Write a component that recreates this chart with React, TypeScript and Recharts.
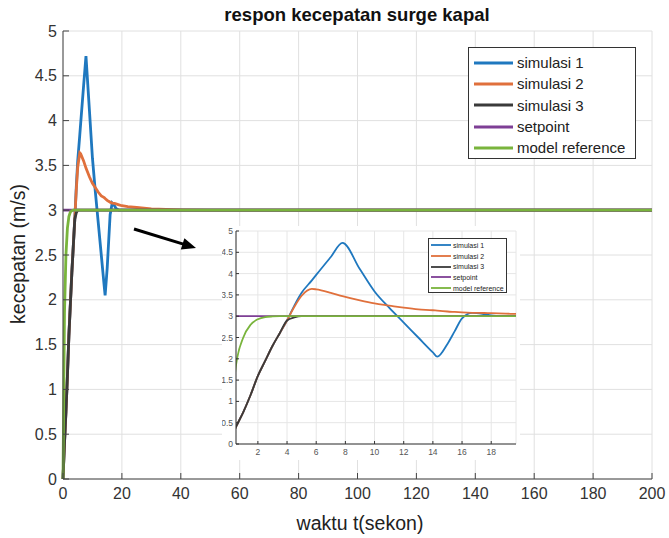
import React from "react";
import { CartesianGrid, Legend, Line, LineChart, XAxis, YAxis } from "recharts";

// waktu (detik) dan respon kecepatan tiap simulasi
const time = [0, 0.5, 1, 1.5, 2, 2.5, 3, 3.5, 4, 4.5, 5, 5.7, 6, 7, 7.8, 9, 10, 11, 12, 13, 14, 14.3, 15, 15.5, 16, 16.7, 17.5, 18, 19, 20, 22, 25, 30, 35, 40, 50, 200];
const simulasi1 = [0, 0.4, 0.75, 1.15, 1.6, 1.95, 2.3, 2.6, 2.9, 3.25, 3.55, 3.84, 3.97, 4.39, 4.72, 4.1, 3.58, 3.2, 2.85, 2.5, 2.15, 2.05, 2.35, 2.65, 2.95, 3.08, 3.05, 3.02, 3.0, 3, 3, 3, 3, 3, 3, 3, 3];
const simulasi2 = [0, 0.4, 0.75, 1.15, 1.6, 1.95, 2.3, 2.6, 2.9, 3.22, 3.48, 3.64, 3.63, 3.55, 3.47, 3.37, 3.3, 3.25, 3.2, 3.16, 3.14, 3.13, 3.11, 3.1, 3.09, 3.08, 3.075, 3.07, 3.06, 3.05, 3.04, 3.03, 3.015, 3.008, 3.004, 3.0, 3.0];
const simulasi3 = [0, 0.4, 0.75, 1.15, 1.6, 1.95, 2.3, 2.6, 2.9, 2.97, 3.0, 3, 3, 3, 3, 3, 3, 3, 3, 3, 3, 3, 3, 3, 3, 3, 3, 3, 3, 3, 3, 3, 3, 3, 3, 3, 3];
const setpoint = [3, 3, 3, 3, 3, 3, 3, 3, 3, 3, 3, 3, 3, 3, 3, 3, 3, 3, 3, 3, 3, 3, 3, 3, 3, 3, 3, 3, 3, 3, 3, 3, 3, 3, 3, 3, 3];
const modelReference = [0, 1.85, 2.5, 2.8, 2.93, 2.98, 2.995, 3, 3, 3, 3, 3, 3, 3, 3, 3, 3, 3, 3, 3, 3, 3, 3, 3, 3, 3, 3, 3, 3, 3, 3, 3, 3, 3, 3, 3, 3];

const mainXTicks = [0, 20, 40, 60, 80, 100, 120, 140, 160, 180, 200];
const yTicks = [0, 0.5, 1, 1.5, 2, 2.5, 3, 3.5, 4, 4.5, 5];
const insetXTicks = [2, 4, 6, 8, 10, 12, 14, 16, 18];

const seriesNames = ["simulasi 1", "simulasi 2", "simulasi 3", "setpoint", "model reference"];
const seriesKeys = ["s1", "s2", "s3", "sp", "mr"];
const seriesColors = ["#1f78bf", "#e0703c", "#3a3a3a", "#7e3f95", "#79b43c"];

const rows = time.map((t, i) => ({
  t,
  s1: simulasi1[i],
  s2: simulasi2[i],
  s3: simulasi3[i],
  sp: setpoint[i],
  mr: modelReference[i],
}));

const FONT = '"Liberation Sans", Arial, sans-serif';

const BoxLegend = (props: any) => {
  const { payload, fontSize, rowH, lineW, padTop, padLeft, gap, lineWidth, width, height } = props;
  const items = [...(payload || [])].sort(
    (a: any, b: any) => seriesNames.indexOf(a.value) - seriesNames.indexOf(b.value)
  );
  return (
    <div
      style={{
        boxSizing: "border-box",
        width,
        height,
        border: "1px solid #333",
        background: "#fff",
        paddingTop: padTop,
        paddingLeft: padLeft,
        fontFamily: FONT,
        fontSize,
        color: "#222",
      }}
    >
      {items.map((p: any) => (
        <div key={p.value} style={{ display: "flex", alignItems: "center", height: rowH, whiteSpace: "nowrap" }}>
          <svg width={lineW} height={6} style={{ marginRight: gap }}>
            <line x1={0} y1={3} x2={lineW} y2={3} stroke={p.color} strokeWidth={lineWidth} />
          </svg>
          <span>{p.value}</span>
        </div>
      ))}
    </div>
  );
};

export default function App() {
  return (
    <div style={{ position: "absolute", left: 0, top: 0, width: 669, height: 538, background: "#fff", fontFamily: FONT }}>
      <LineChart width={669} height={538} data={rows} margin={{ top: 31, right: 17, left: 0, bottom: 0 }}>
        <CartesianGrid stroke="#e0e0e0" />
        <XAxis
          dataKey="t"
          type="number"
          domain={[0, 200]}
          ticks={mainXTicks}
          interval={0}
          height={59}
          tickSize={-6}
          tickMargin={15}
          stroke="#444"
          tick={{ fill: "#333", fontSize: 16, fontFamily: FONT }}
        />
        <XAxis xAxisId="top" orientation="top" dataKey="t" type="number" domain={[0, 200]} ticks={mainXTicks} interval={0} height={0} tickSize={-6} tickFormatter={() => ""} stroke="#444" />
        <YAxis
          type="number"
          domain={[0, 5]}
          ticks={yTicks}
          interval={0}
          width={63}
          tickSize={-6}
          tickMargin={12}
          stroke="#444"
          tick={{ fill: "#333", fontSize: 16, fontFamily: FONT }}
        />
        <YAxis yAxisId="right" orientation="right" type="number" domain={[0, 5]} ticks={yTicks} interval={0} width={0} tickSize={-6} tickFormatter={() => ""} stroke="#444" />
        {seriesKeys.map((k, i) => (
          <Line key={k} dataKey={k} name={seriesNames[i]} stroke={seriesColors[i]} strokeWidth={2.8} dot={false} isAnimationActive={false} />
        ))}
        <Legend
          layout="vertical"
          align="center"
          verticalAlign="middle"
          wrapperStyle={{ left: 468, top: 47, width: 168, height: 112 }}
          content={(p: any) => (
            <BoxLegend {...p} width={168} height={112} fontSize={15} rowH={21.3} lineW={39} padTop={4} padLeft={5} gap={4} lineWidth={3} />
          )}
        />
      </LineChart>

      <div style={{ position: "absolute", left: 222, top: 226, width: 298, height: 234, background: "#fff" }}>
        <LineChart width={298} height={234} data={rows} margin={{ top: 5, right: 4, left: 0, bottom: 0 }}>
          <CartesianGrid stroke="#e6e6e6" />
          <XAxis
            dataKey="t"
            type="number"
            domain={[0.5, 19.7]}
            allowDataOverflow
            ticks={insetXTicks}
            interval={0}
            height={16}
            tickSize={-3}
            tickMargin={8}
            stroke="#333"
            tick={{ fill: "#555", fontSize: 8.5, fontFamily: FONT }}
          />
          <XAxis xAxisId="top" orientation="top" dataKey="t" type="number" domain={[0.5, 19.7]} allowDataOverflow ticks={insetXTicks} interval={0} height={0} tickSize={-3} tickFormatter={() => ""} stroke="#333" />
          <YAxis
            type="number"
            domain={[0, 5]}
            ticks={yTicks}
            interval={0}
            width={14}
            tickSize={-3}
            tickMargin={6}
            stroke="#333"
            tick={{ fill: "#555", fontSize: 8.5, fontFamily: FONT }}
          />
          <YAxis yAxisId="right" orientation="right" type="number" domain={[0, 5]} ticks={yTicks} interval={0} width={0} tickSize={-3} tickFormatter={() => ""} stroke="#333" />
          {seriesKeys.map((k, i) => (
            <Line key={k} type="monotone" dataKey={k} name={seriesNames[i]} stroke={seriesColors[i]} strokeWidth={1.8} dot={false} isAnimationActive={false} />
          ))}
          <Legend
            layout="vertical"
            align="center"
            verticalAlign="middle"
            wrapperStyle={{ left: 206, top: 12, width: 79, height: 55 }}
            content={(p: any) => (
              <BoxLegend {...p} width={79} height={55} fontSize={7} rowH={10.7} lineW={20} padTop={1} padLeft={2} gap={2} lineWidth={1.8} />
            )}
          />
        </LineChart>
      </div>

      <svg width={669} height={538} style={{ position: "absolute", left: 0, top: 0, pointerEvents: "none" }}>
        <text x={357} y={21} textAnchor="middle" fontSize={18.5} fontWeight="bold" fill="#111" fontFamily={FONT}>
          respon kecepatan surge kapal
        </text>
        <text x={360} y={530} textAnchor="middle" fontSize={19.5} fill="#222" fontFamily={FONT}>
          waktu t(sekon)
        </text>
        <text x={25} y={254} textAnchor="middle" fontSize={19.5} fill="#222" fontFamily={FONT} transform="rotate(-90 25 254)">
          kecepatan (m/s)
        </text>
        <line x1={134} y1={229} x2={185} y2={244.6} stroke="#000" strokeWidth={3} />
        <polygon points="196,248 184.4,238.2 180.8,249.6" fill="#000" />
      </svg>
    </div>
  );
}
